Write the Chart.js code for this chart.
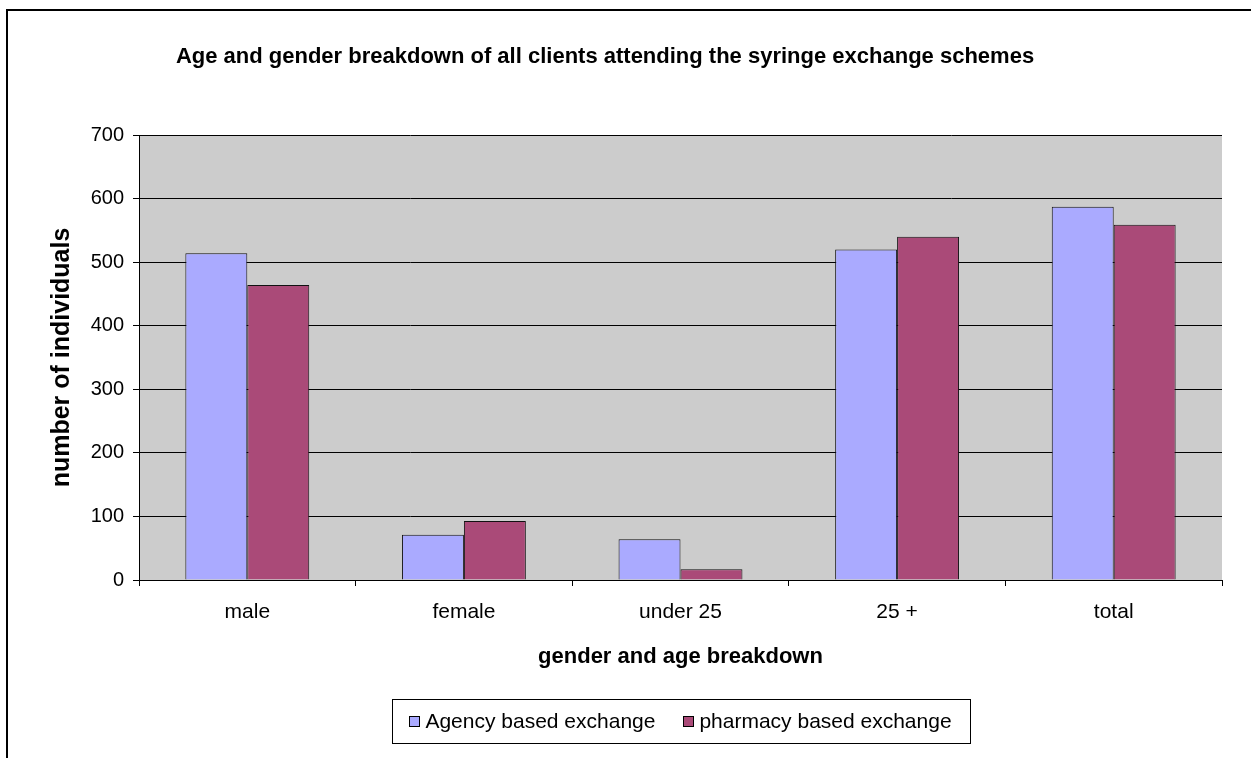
<!DOCTYPE html>
<html>
<head>
<meta charset="utf-8">
<script src="https://cdn.jsdelivr.net/npm/chart.js@4/dist/chart.umd.min.js"></script>
<style>
  html, body { margin: 0; padding: 0; background: #fff; }
  #wrap { width: 1251px; height: 758px; position: relative; }
</style>
</head>
<body>
<div id="wrap"><canvas id="chart1"></canvas></div>
<script>
var categories = ['male', 'female', 'under 25', '25 +', 'total'];
var agency = [514, 71, 64, 520, 587];
var pharmacy = [464, 93, 17, 540, 559];
var seriesNames = ['Agency based exchange', 'pharmacy based exchange'];
var yTicks = [0, 100, 200, 300, 400, 500, 600, 700];

var fontFamily = "'Liberation Sans', Arial, sans-serif";

// outer frame, grey plot area, title and boxed legend
var decor = {
  id: 'decor',
  beforeDraw: function(chart) {
    var ctx = chart.ctx, a = chart.chartArea;
    ctx.save();
    ctx.fillStyle = '#cccccc';
    ctx.fillRect(a.left, a.top, a.right - a.left, a.bottom - a.top);
    ctx.restore();
  },
  afterDraw: function(chart) {
    var ctx = chart.ctx, a = chart.chartArea;
    ctx.save();
    ctx.strokeStyle = '#000';
    ctx.lineWidth = 2;
    ctx.strokeRect(7, 10, 1300, 800);

    ctx.fillStyle = '#000';
    ctx.font = 'bold 22px ' + fontFamily;
    ctx.textAlign = 'center';
    ctx.textBaseline = 'middle';
    ctx.fillText('Age and gender breakdown of all clients attending the syringe exchange schemes', 605, 57);

    // legend, centred on the plot area
    ctx.font = '21px ' + fontFamily;
    var ds = chart.data.datasets;
    var box = 11, gap = 5, spacing = 28;
    var widths = ds.map(function(d) { return ctx.measureText(d.label).width; });
    var total = 0;
    for (var i = 0; i < ds.length; ++i) total += box + gap + widths[i];
    total += spacing * (ds.length - 1);
    var mid = (a.left + a.right) / 2;
    var x = mid - total / 2;
    var cy = 721;
    ctx.lineWidth = 1;
    ctx.strokeStyle = '#000';
    ctx.strokeRect(Math.round(mid - 289) + 0.5, 699.5, 578, 44);
    ctx.textAlign = 'left';
    for (var i = 0; i < ds.length; ++i) {
      ctx.fillStyle = ds[i].backgroundColor;
      ctx.fillRect(Math.round(x), cy - 5, box, box);
      ctx.strokeRect(Math.round(x) + 0.5, cy - 4.5, box - 1, box - 1);
      ctx.fillStyle = '#000';
      ctx.fillText(ds[i].label, x + box + gap, cy + 1);
      x += box + gap + widths[i] + spacing;
    }
    ctx.restore();
  }
};

var chart = new Chart('chart1', {
  type: 'bar',
  data: {
    labels: categories,
    datasets: [
      {
        label: seriesNames[0],
        data: agency,
        backgroundColor: '#aaaaff',
        borderColor: '#111',
        borderWidth: 1,
        categoryPercentage: 0.572,
        barPercentage: 1
      },
      {
        label: seriesNames[1],
        data: pharmacy,
        backgroundColor: '#aa4a78',
        borderColor: '#111',
        borderWidth: 1,
        categoryPercentage: 0.572,
        barPercentage: 1
      }
    ]
  },
  options: {
    responsive: true,
    maintainAspectRatio: false,
    animation: false,
    layout: { padding: { left: 0, right: 29, top: 135, bottom: 88 } },
    plugins: {
      legend: { display: false },
      title: { display: false },
      tooltip: { enabled: false }
    },
    scales: {
      x: {
        afterFit: function(s) { s.height = 90; },
        grid: {
          offset: true,
          drawOnChartArea: false,
          drawTicks: true,
          tickLength: 6,
          color: '#000',
          tickColor: '#000'
        },
        border: { color: '#000', width: 1 },
        ticks: { color: '#000', padding: 14, font: { family: fontFamily, size: 21 } },
        title: {
          display: true,
          text: 'gender and age breakdown',
          color: '#000',
          padding: { top: 0, bottom: 0 },
          font: { family: fontFamily, size: 22, weight: 'bold' }
        }
      },
      y: {
        min: 0,
        max: 700,
        afterFit: function(s) { s.width = 139; },
        afterBuildTicks: function(s) { s.ticks = yTicks.map(function(v) { return { value: v }; }); },
        grid: {
          color: '#000',
          tickColor: '#000',
          tickLength: 6,
          lineWidth: 1
        },
        border: { color: '#000', width: 1 },
        ticks: { color: '#000', padding: 9, font: { family: fontFamily, size: 20 } },
        title: {
          display: true,
          text: 'number of individuals',
          color: '#000',
          padding: { top: 47, bottom: 0 },
          font: { family: fontFamily, size: 25, weight: 'bold' }
        }
      }
    }
  },
  plugins: [decor]
});
</script>
</body>
</html>
